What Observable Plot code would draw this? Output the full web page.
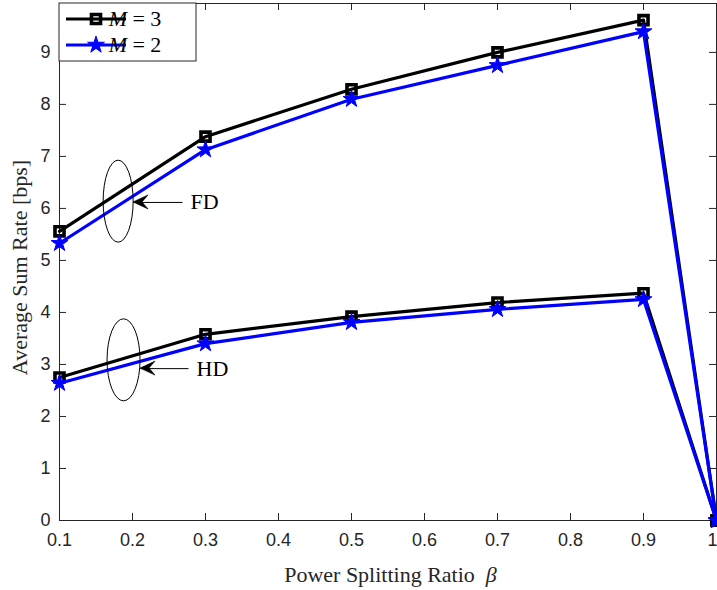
<!DOCTYPE html>
<html>
<head>
<meta charset="utf-8">
<script src="https://cdn.jsdelivr.net/npm/d3@7"></script>
<script src="https://cdn.jsdelivr.net/npm/@observablehq/plot@0.6"></script>
<style>
  html, body { margin: 0; padding: 0; background: #fff; }
  #chart { width: 717px; height: 590px; }
</style>
</head>
<body>
<div id="chart"></div>
<script>
// ---- data ----
const beta = [0.1, 0.3, 0.5, 0.7, 0.9, 1.0];
const fdM3 = [5.56, 7.38, 8.29, 9.00, 9.62, 0];
const fdM2 = [5.33, 7.13, 8.10, 8.75, 9.40, 0];
const hdM3 = [2.75, 3.58, 3.92, 4.19, 4.37, 0];
const hdM2 = [2.64, 3.40, 3.81, 4.06, 4.25, 0];
const seriesNames = ["M = 3", "M = 2"];
const xTicks = [0.1, 0.2, 0.3, 0.4, 0.5, 0.6, 0.7, 0.8, 0.9, 1.0];
const xTickLabels = ["0.1", "0.2", "0.3", "0.4", "0.5", "0.6", "0.7", "0.8", "0.9", "1"];
const yTicks = [0, 1, 2, 3, 4, 5, 6, 7, 8, 9];
const annLabels = ["FD", "HD"];
const annEllipseX = [0.181, 0.1884];
const annEllipseY = [6.13, 3.08];
const annArrowX1 = [0.2685, 0.2767];
const annArrowX2 = [0.2014, 0.211];
const annArrowY = [6.115, 2.92];
const annTextX = [0.2795, 0.2877];

// ---- build tables ----
const rows = (ys, series, group) => beta.map((b, i) => ({x: b, y: ys[i], series, group}));
const m3 = [...rows(fdM3, seriesNames[0], "FD"), ...rows(hdM3, seriesNames[0], "HD")];
const m2 = [...rows(fdM2, seriesNames[1], "FD"), ...rows(hdM2, seriesNames[1], "HD")];
const ann = annLabels.map((l, i) => ({label: l, cx: annEllipseX[i], cy: annEllipseY[i],
  x1: annArrowX1[i], x2: annArrowX2[i], y: annArrowY[i], tx: annTextX[i]}));
const xTicksMain = xTicks.slice(0, -1);
const xTickLast = xTicks.slice(-1);

const W = 717, H = 590, mL = 59, mR = 1, mT = 3, mB = 70;
const plotW = W - mL - mR, plotH = H - mT - mB;
const axisColor = "#262626";
const serif = "'Liberation Serif', 'Times New Roman', serif";
const sans = "'Liberation Sans', Arial, Helvetica, sans-serif";
const blue = "#0000ff";

const plot = Plot.plot({
  width: W, height: H,
  marginLeft: mL, marginRight: mR, marginTop: mT, marginBottom: mB,
  style: {fontFamily: sans, fontSize: "18px", color: axisColor, background: "#fff"},
  x: {domain: [0.1, 1.0], label: null},
  y: {domain: [0, 9.94], label: null},
  marks: [
    Plot.frame({stroke: axisColor, strokeWidth: 1}),
    // inward ticks on all four sides
    Plot.tickX(xTicks, {x: d => d, stroke: axisColor, insetTop: plotH - 7}),
    Plot.tickX(xTicks, {x: d => d, stroke: axisColor, insetBottom: plotH - 7}),
    Plot.tickY(yTicks, {y: d => d, stroke: axisColor, insetRight: plotW - 7}),
    Plot.tickY(yTicks, {y: d => d, stroke: axisColor, insetLeft: plotW - 7}),
    Plot.axisX({ticks: xTicksMain, tickSize: 0, tickPadding: 13, tickFormat: d => xTickLabels[xTicks.indexOf(d)], fontSize: 18, fill: axisColor}),
    Plot.text(xTickLast, {x: d => d, y: 0, text: d => xTickLabels[xTicks.indexOf(d)], lineAnchor: "top", dy: 13, dx: -4, fontSize: 18, fill: axisColor}),
    Plot.axisY({ticks: yTicks, tickSize: 0, tickPadding: 9, fontSize: 18, fill: axisColor}),
    // lines
    Plot.line(m3, {x: "x", y: "y", z: "group", stroke: "#000", strokeWidth: 3.2}),
    Plot.dot(m3, {x: "x", y: "y", symbol: "square", r: 5.1, stroke: "#000", strokeWidth: 3.6, fill: "none"}),
    Plot.line(m2, {x: "x", y: "y", z: "group", stroke: blue, strokeWidth: 3.2}),
    Plot.dot(m2, {x: "x", y: "y", symbol: "star", r: 5.3, fill: blue, stroke: blue, strokeWidth: 1}),
    // annotations
    Plot.link(ann, {x1: "x1", y1: "y", x2: "x2", y2: "y", stroke: "#000", strokeWidth: 1}),
    Plot.text(ann, {x: "tx", y: "y", text: "label", textAnchor: "start", fontFamily: serif, fontSize: 22, fill: "#000"})
  ]
});

const svg = d3.select(plot);
const sx = plot.scale("x"), sy = plot.scale("y");
// ellipses and arrowheads
ann.forEach((a, i) => {
  svg.append("ellipse")
    .attr("cx", sx.apply(a.cx)).attr("cy", sy.apply(a.cy))
    .attr("rx", i === 0 ? 15 : 16.5).attr("ry", 41)
    .attr("fill", "none").attr("stroke", "#000").attr("stroke-width", 1);
  const hx = sx.apply(a.x2), hy = sy.apply(a.y);
  svg.append("path")
    .attr("d", `M${hx},${hy} L${hx + 15},${hy - 7} L${hx + 9},${hy} L${hx + 15},${hy + 7} Z`)
    .attr("fill", "#000").attr("stroke", "#000").attr("stroke-width", 0.6).attr("stroke-linejoin", "miter");
});

// axis titles
svg.append("text")
  .attr("x", mL + plotW / 2 + 3).attr("y", 582)
  .attr("text-anchor", "middle").attr("font-family", serif).attr("font-size", 22).attr("fill", axisColor)
  .call(t => { t.append("tspan").text("Power Splitting Ratio  "); t.append("tspan").attr("font-style", "italic").text("β"); });
svg.append("text")
  .attr("transform", `translate(27,${mT + plotH / 2 + 6}) rotate(-90)`)
  .attr("text-anchor", "middle").attr("font-family", serif).attr("font-size", 22).attr("fill", axisColor)
  .text("Average Sum Rate [bps]");

// legend
const lg = svg.append("g");
lg.append("rect").attr("x", mL).attr("y", mT).attr("width", 137).attr("height", 58)
  .attr("fill", "#fff").attr("stroke", axisColor).attr("stroke-width", 1);
const legendItems = [
  {name: seriesNames[0], color: "#000", sym: d3.symbolSquare, size: 5.1 * 5.1 * Math.PI, fill: "none", sw: 3.6, y: 19},
  {name: seriesNames[1], color: blue, sym: d3.symbolStar, size: 5.3 * 5.3 * Math.PI, fill: blue, sw: 1, y: 45}
];
legendItems.forEach(it => {
  lg.append("line").attr("x1", 66).attr("x2", 126).attr("y1", it.y).attr("y2", it.y)
    .attr("stroke", it.color).attr("stroke-width", 3.2);
  lg.append("path").attr("d", d3.symbol(it.sym, it.size)()).attr("transform", `translate(96,${it.y})`)
    .attr("fill", it.fill).attr("stroke", it.color).attr("stroke-width", it.sw);
  const parts = it.name.split(" ");
  lg.append("text").attr("x", 135).attr("y", it.y + 7).attr("font-family", serif).attr("font-size", 22).attr("fill", "#000")
    .call(t => { t.append("tspan").attr("font-style", "italic").text(parts[0]); t.append("tspan").text(" " + parts.slice(1).join(" ")); });
});

document.getElementById("chart").appendChild(plot);
</script>
</body>
</html>
